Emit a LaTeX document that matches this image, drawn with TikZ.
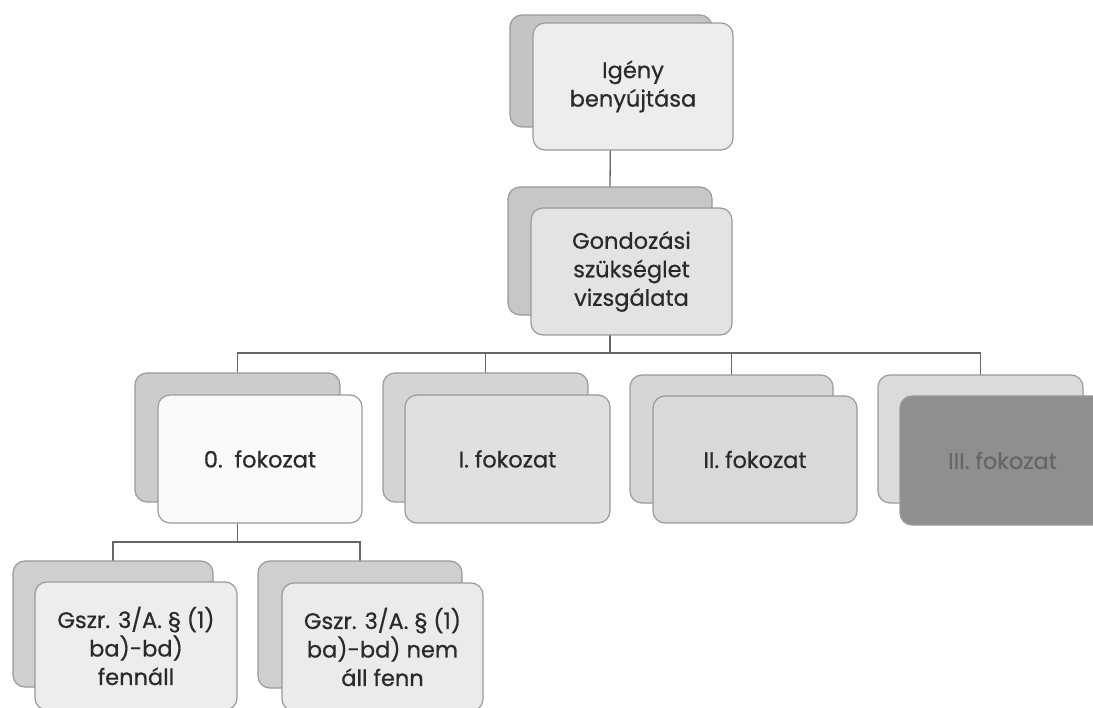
\documentclass[tikz,border=0pt]{standalone}
\usepackage{fontspec}
\setmainfont{Poppins}[FakeBold=0.6]
\newfontfamily\boxfont{Poppins}[FakeBold=0.7]
\usetikzlibrary{backgrounds}
\definecolor{edgec}{HTML}{9A9A9A}
\definecolor{linec}{HTML}{666666}
\definecolor{txtc}{HTML}{2A2A2A}
\tikzset{
  box/.style={draw=edgec, line width=1.2pt, rounded corners=12pt, inner sep=0pt, outer sep=0pt, align=center,
    text=txtc, font=\boxfont\fontsize{22.5}{28.5}\selectfont},
  conn/.style={draw=linec, line width=1.3pt},
}
\begin{document}
\begin{tikzpicture}[x=1pt,y=-1pt]
\useasboundingbox (0,0) rectangle (1093,708);
% top
\node[box, fill=black!23, minimum width=202pt, minimum height=112pt] (topb) at (611,71) {};
\node[box, fill=black!7, minimum width=200pt, minimum height=127pt] (topf) at (633,86.5) {Igény\\benyújtása};
% second
\node[box, fill=black!22, minimum width=204pt, minimum height=128pt] (secb) at (610,251) {};
\node[box, fill=black!11, minimum width=201pt, minimum height=127pt] (secf) at (631.5,271.5) {Gondozási\\szükséglet\\vizsgálata};
% level 2
\node[box, fill=black!20, minimum width=205pt, minimum height=129pt] (l0b) at (237.5,437.5) {};
\node[box, fill=black!2, minimum width=204pt, minimum height=128pt] (l0f) at (260,459) {0.\ \ fokozat};
\node[box, fill=black!17, minimum width=205pt, minimum height=129pt] (l1b) at (485.5,437.5) {};
\node[box, fill=black!12, minimum width=205pt, minimum height=128pt] (l1f) at (507.5,459) {I. fokozat};
\node[box, fill=black!16, minimum width=203pt, minimum height=128pt] (l2b) at (731.5,439) {};
\node[box, fill=black!15, minimum width=204pt, minimum height=127pt] (l2f) at (755,459.5) {II. fokozat};
\node[box, fill=black!14, minimum width=205pt, minimum height=128pt] (l3b) at (980.5,439) {};
\node[box, fill=black!44, text=black!60, minimum width=205pt, minimum height=129pt] (l3f) at (1002.5,460.5) {III. fokozat};
% level 3
\node[box, fill=black!19, minimum width=200pt, minimum height=126pt] (m1b) at (113,624) {};
\node[box, fill=black!7, minimum width=202pt, minimum height=128pt] (m1f) at (136,646) {Gszr. 3/A. § (1)\\ba)-bd)\\fennáll};
\node[box, fill=black!19, minimum width=204pt, minimum height=127pt] (m2b) at (360,624.5) {};
\node[box, fill=black!8, minimum width=201pt, minimum height=128pt] (m2f) at (382.5,647) {Gszr. 3/A. § (1)\\ba)-bd) nem\\áll fenn};
% connectors
\coordinate (bus1) at (610,353);
\coordinate (bus2) at (237.5,542);
\begin{scope}[on background layer]
\fill[white] (0,0) rectangle (1093,708);
\draw[conn] (topb.center) -- (secb.north);
\draw[conn] (secb.center) |- (bus1) -| (l0b.north);
\draw[conn] (bus1) -| (l1b.north);
\draw[conn] (bus1) -| (l2b.north);
\draw[conn] (bus1) -| (l3b.north);
\draw[conn] (l0b.center) |- (bus2) -| (m1b.north);
\draw[conn] (bus2) -| (m2b.north);
\end{scope}
\end{tikzpicture}
\end{document}
